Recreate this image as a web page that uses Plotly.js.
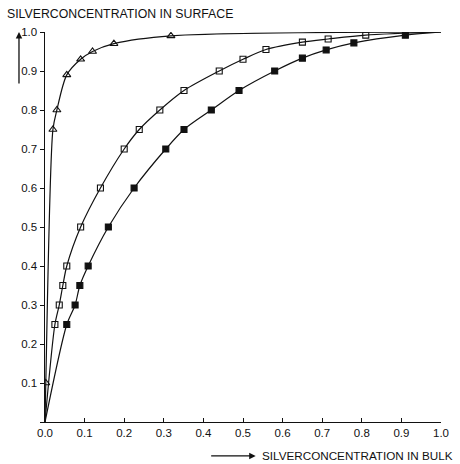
<!DOCTYPE html>
<html>
<head>
<meta charset="utf-8">
<script src="https://cdn.plot.ly/plotly-3.0.1.min.js"></script>
<style>html,body{margin:0;padding:0;background:#fff;}#chart{width:460px;height:464px;}</style>
</head>
<body>
<div id="chart"></div>
<script>
// Series A (open triangles)
const triX = [0.002, 0.02, 0.03, 0.055, 0.09, 0.12, 0.174, 0.318];
const triY = [0.10, 0.75, 0.80, 0.89, 0.93, 0.95, 0.97, 0.99];
// Series B (open squares)
const sqX = [0.025, 0.036, 0.045, 0.055, 0.09, 0.14, 0.20, 0.238, 0.29, 0.351, 0.44, 0.50, 0.558, 0.65, 0.715, 0.81];
const sqY = [0.25, 0.30, 0.35, 0.40, 0.50, 0.60, 0.70, 0.75, 0.80, 0.85, 0.90, 0.93, 0.955, 0.974, 0.982, 0.992];
// Series C (filled squares)
const fsX = [0.055, 0.076, 0.088, 0.109, 0.16, 0.225, 0.305, 0.351, 0.42, 0.49, 0.58, 0.65, 0.71, 0.78, 0.91];
const fsY = [0.25, 0.30, 0.35, 0.40, 0.50, 0.60, 0.70, 0.75, 0.80, 0.85, 0.90, 0.933, 0.954, 0.972, 0.992];
// Curve end points
const startPt = [0, 0];
const endPt = [1, 1];
// Tick labels
const tickVals = [0, 0.1, 0.2, 0.3, 0.4, 0.5, 0.6, 0.7, 0.8, 0.9, 1.0];
const xTickText = ["0.0","0.1","0.2","0.3","0.4","0.5","0.6","0.7","0.8","0.9","1.0"];
const yTickText = ["","0.1","0.2","0.3","0.4","0.5","0.6","0.7","0.8","0.9","1.0"];

const FONT = "Liberation Sans, Arial, sans-serif";

function curve(xs, ys) {
  return {
    x: [startPt[0]].concat(xs, [endPt[0]]),
    y: [startPt[1]].concat(ys, [endPt[1]]),
    mode: 'lines', type: 'scatter', hoverinfo: 'skip',
    line: {color: '#111', width: 1.2, shape: 'spline', smoothing: 0.8}
  };
}
function marks(xs, ys, sym, size) {
  return {
    x: xs, y: ys, mode: 'markers', type: 'scatter',
    marker: {symbol: sym, size: size, color: '#111',
             line: {color: '#111', width: 1.1}}
  };
}

const data = [
  curve(triX, triY), curve(sqX, sqY), curve(fsX, fsY),
  marks(triX, triY, 'triangle-up-open', 7),
  marks(sqX, sqY, 'square-open', 6),
  marks(fsX, fsY, 'square', 6)
];

const layout = {
  width: 460, height: 464,
  margin: {l: 45, r: 19, t: 32, b: 42},
  paper_bgcolor: '#fff', plot_bgcolor: '#fff',
  showlegend: false,
  font: {family: FONT, size: 12, color: '#111'},
  xaxis: {
    range: [0, 1.0], tickvals: tickVals, ticktext: xTickText,
    showgrid: false, zeroline: false, showline: true, linecolor: '#111', linewidth: 1,
    ticks: 'inside', ticklen: 4, tickcolor: '#111', tickfont: {family: FONT, size: 11.5}
  },
  yaxis: {
    range: [0, 1.0], tickvals: tickVals, ticktext: yTickText,
    showgrid: false, zeroline: false, showline: true, linecolor: '#111', linewidth: 1.5,
    ticks: 'outside', ticklen: 4, tickcolor: '#111', tickfont: {family: FONT, size: 11.5}
  },
  annotations: [
    {xref: 'paper', yref: 'paper', x: -0.101, y: 1.046, xanchor: 'left', yanchor: 'middle',
     text: 'SILVERCONCENTRATION IN SURFACE', showarrow: false, font: {family: FONT, size: 12.3, color: '#111'}},
    {xref: 'paper', yref: 'paper', x: 1.035, y: -0.087, xanchor: 'right', yanchor: 'middle',
     text: 'SILVERCONCENTRATION IN BULK', showarrow: false, font: {family: FONT, size: 11.7, color: '#111'}},
    {xref: 'paper', yref: 'paper', x: -0.0657, y: 1.0, text: '', showarrow: true,
     ax: 0, ay: 53, arrowhead: 2, arrowsize: 1, arrowwidth: 1.3, arrowcolor: '#111'},
    {xref: 'paper', yref: 'paper', x: 0.532, y: -0.087, text: '', showarrow: true,
     ax: -46, ay: 0, arrowhead: 2, arrowsize: 1, arrowwidth: 1.3, arrowcolor: '#111'}
  ]
};

Plotly.newPlot('chart', data, layout, {staticPlot: true, displayModeBar: false});
</script>
</body>
</html>
